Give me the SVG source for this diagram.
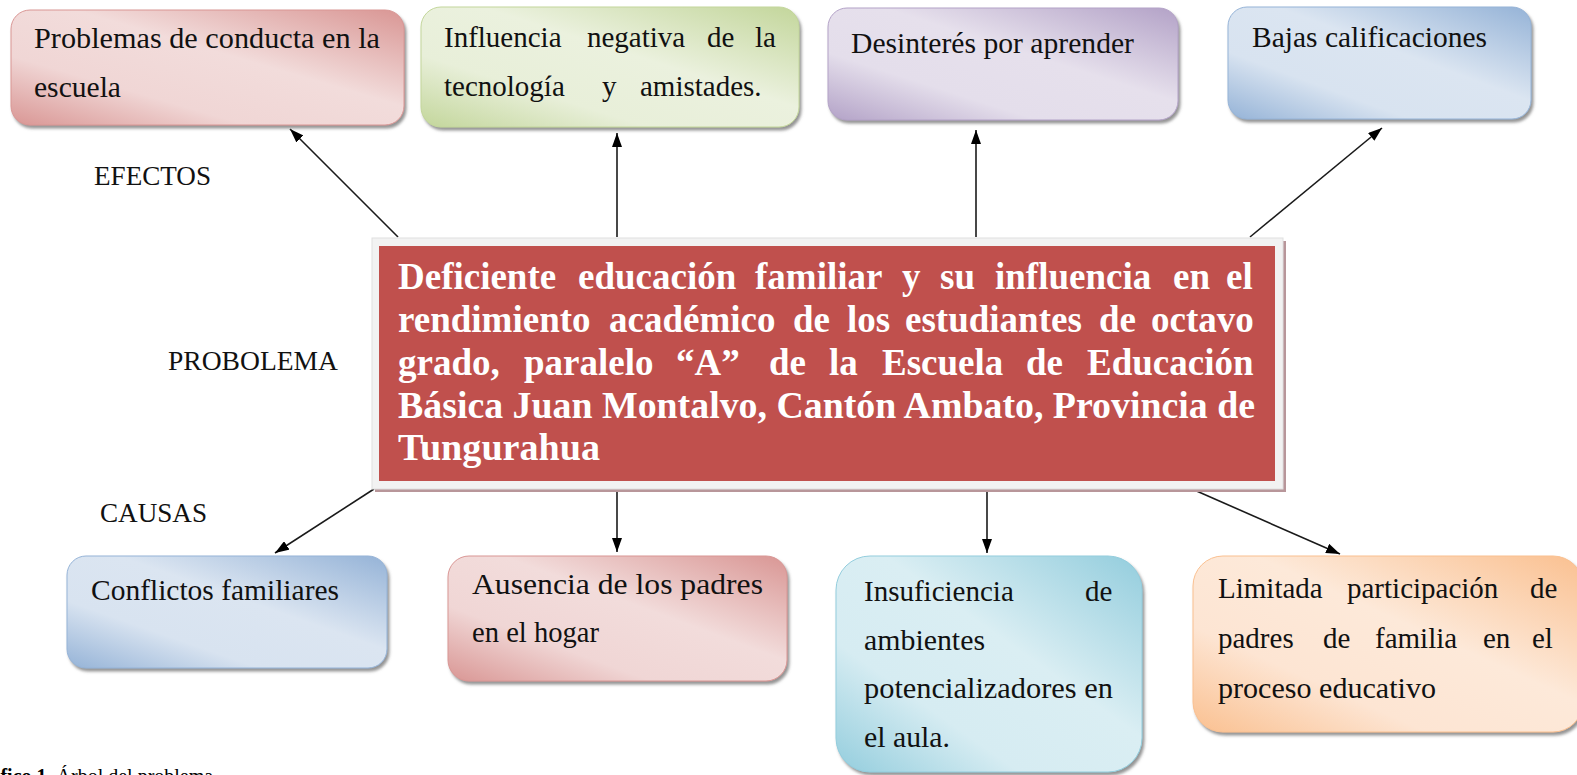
<svg xmlns="http://www.w3.org/2000/svg" width="1577" height="775" viewBox="0 0 1577 775">
<style>
.t{font-family:"Liberation Serif","Times New Roman",serif;font-size:29px;fill:#111}
.lbl{font-family:"Liberation Serif","Times New Roman",serif;font-size:28px;fill:#111}
.main{font-family:"Liberation Serif","Times New Roman",serif;font-size:37px;font-weight:bold;fill:#fff}
.cap{font-family:"Liberation Serif","Times New Roman",serif;font-size:20px;fill:#000}
.conn{stroke:#1a1a1a;stroke-width:1.6;fill:none;marker-end:url(#ah)}
.box{filter:url(#sh);stroke-width:1}
</style>
<defs>
<marker id="ah" viewBox="0 0 14 10" refX="14" refY="5" markerWidth="14" markerHeight="10" markerUnits="userSpaceOnUse" orient="auto">
<path d="M0,0 L14,5 L0,10 z" fill="#000"/>
</marker>
<filter id="sh" x="-5%" y="-5%" width="112%" height="115%">
<feDropShadow dx="2" dy="3" stdDeviation="1.5" flood-color="#6f6f6f" flood-opacity="0.75"/>
</filter>
<linearGradient id="gRed" x1="1" y1="0" x2="0" y2="1">
<stop offset="0" stop-color="#d99694"/><stop offset="0.42" stop-color="#f2dcdb"/><stop offset="0.7" stop-color="#f0d6d5"/><stop offset="1" stop-color="#d99694"/>
</linearGradient>
<linearGradient id="gGreen" x1="1" y1="0" x2="0" y2="1">
<stop offset="0" stop-color="#c3d69b"/><stop offset="0.42" stop-color="#ebf1de"/><stop offset="0.7" stop-color="#e8efd9"/><stop offset="1" stop-color="#c3d69b"/>
</linearGradient>
<linearGradient id="gPurple" x1="1" y1="0" x2="0" y2="1">
<stop offset="0" stop-color="#b3a2c7"/><stop offset="0.42" stop-color="#e6e0ec"/><stop offset="0.7" stop-color="#e4deeb"/><stop offset="1" stop-color="#b3a2c7"/>
</linearGradient>
<linearGradient id="gBlue" x1="1" y1="0" x2="0" y2="1">
<stop offset="0" stop-color="#95b3d7"/><stop offset="0.42" stop-color="#dbe5f1"/><stop offset="0.7" stop-color="#d8e3f0"/><stop offset="1" stop-color="#95b3d7"/>
</linearGradient>
<linearGradient id="gCyan" x1="1" y1="0" x2="0" y2="1">
<stop offset="0" stop-color="#93cddd"/><stop offset="0.42" stop-color="#daeef3"/><stop offset="0.7" stop-color="#d6ecf2"/><stop offset="1" stop-color="#93cddd"/>
</linearGradient>
<linearGradient id="gOrange" x1="1" y1="0" x2="0" y2="1">
<stop offset="0" stop-color="#fac090"/><stop offset="0.42" stop-color="#fde9d9"/><stop offset="0.7" stop-color="#fde5d3"/><stop offset="1" stop-color="#fac090"/>
</linearGradient>
</defs>
<rect width="1577" height="775" fill="#fff"/>

<g id="connectors">
<line class="conn" x1="398" y1="237" x2="290" y2="129"/>
<line class="conn" x1="617" y1="237" x2="617" y2="133"/>
<line class="conn" x1="976" y1="237" x2="976" y2="130"/>
<line class="conn" x1="1250" y1="237" x2="1382" y2="128"/>
<line class="conn" x1="374" y1="489" x2="275" y2="553"/>
<line class="conn" x1="617" y1="489" x2="617" y2="552"/>
<line class="conn" x1="987" y1="489" x2="987" y2="553"/>
<line class="conn" x1="1192" y1="489" x2="1340" y2="554"/>
</g>

<g id="labels">
<text class="lbl" x="94" y="185" textLength="117" lengthAdjust="spacingAndGlyphs">EFECTOS</text>
<text class="lbl" x="168" y="370" textLength="170" lengthAdjust="spacingAndGlyphs">PROBOLEMA</text>
<text class="lbl" x="100" y="522" textLength="107" lengthAdjust="spacingAndGlyphs">CAUSAS</text>
</g>

<g id="problem">
<rect x="375" y="241" width="911" height="251" fill="#b8969a"/>
<rect x="372" y="238" width="911" height="251" fill="#f2f2f2" stroke="#e0e0e0" stroke-width="1"/>
<rect x="379" y="246" width="896" height="235" fill="#c0504d"/>
<text class="main" y="289"><tspan x="398">Deficiente</tspan><tspan x="578">educación</tspan><tspan x="755">familiar</tspan><tspan x="902">y</tspan><tspan x="940">su</tspan><tspan x="995">influencia</tspan><tspan x="1173">en</tspan><tspan x="1226">el</tspan></text>
<text class="main" y="332"><tspan x="398">rendimiento</tspan><tspan x="609">académico</tspan><tspan x="793">de</tspan><tspan x="847">los</tspan><tspan x="905">estudiantes</tspan><tspan x="1099">de</tspan><tspan x="1151">octavo</tspan></text>
<text class="main" y="375"><tspan x="398">grado,</tspan><tspan x="524">paralelo</tspan><tspan x="676">“A”</tspan><tspan x="769">de</tspan><tspan x="829">la</tspan><tspan x="882">Escuela</tspan><tspan x="1026">de</tspan><tspan x="1087">Educación</tspan></text>
<text class="main" x="398" y="418" textLength="857" lengthAdjust="spacingAndGlyphs">Básica Juan Montalvo, Cantón Ambato, Provincia de</text>
<text class="main" x="398" y="460" textLength="202" lengthAdjust="spacingAndGlyphs">Tungurahua</text>
</g>

<g id="efecto1">
<rect class="box" x="11" y="10" width="393" height="115" rx="19" fill="url(#gRed)" stroke="#d99694"/>
<text class="t" x="34" y="48" textLength="346" lengthAdjust="spacingAndGlyphs">Problemas de conducta en la</text>
<text class="t" x="34" y="97" textLength="87" lengthAdjust="spacingAndGlyphs">escuela</text>
</g>

<g id="efecto2">
<rect class="box" x="421" y="7" width="378" height="120" rx="20" fill="url(#gGreen)" stroke="#c3d69b"/>
<text class="t" y="47"><tspan x="444">Influencia</tspan><tspan x="587">negativa</tspan><tspan x="707">de</tspan><tspan x="755">la</tspan></text>
<text class="t" y="96"><tspan x="444">tecnología</tspan><tspan x="602">y</tspan><tspan x="640">amistades.</tspan></text>
</g>

<g id="efecto3">
<rect class="box" x="828" y="8" width="350" height="112" rx="19" fill="url(#gPurple)" stroke="#b3a2c7"/>
<text class="t" x="851" y="53" textLength="283" lengthAdjust="spacingAndGlyphs">Desinterés por aprender</text>
</g>

<g id="efecto4">
<rect class="box" x="1228" y="7" width="303" height="112" rx="19" fill="url(#gBlue)" stroke="#95b3d7"/>
<text class="t" x="1252" y="47" textLength="235" lengthAdjust="spacingAndGlyphs">Bajas calificaciones</text>
</g>

<g id="causa1">
<rect class="box" x="67" y="556" width="320" height="112" rx="19" fill="url(#gBlue)" stroke="#95b3d7"/>
<text class="t" x="91" y="600" textLength="248" lengthAdjust="spacingAndGlyphs">Conflictos familiares</text>
</g>

<g id="causa2">
<rect class="box" x="448" y="556" width="339" height="125" rx="21" fill="url(#gRed)" stroke="#d99694"/>
<text class="t" x="472" y="594" textLength="291" lengthAdjust="spacingAndGlyphs">Ausencia de los padres</text>
<text class="t" x="472" y="642" textLength="127" lengthAdjust="spacingAndGlyphs">en el hogar</text>
</g>

<g id="causa3">
<rect class="box" x="836" y="556" width="306" height="216" rx="34" fill="url(#gCyan)" stroke="#93cddd"/>
<text class="t" y="601"><tspan x="864">Insuficiencia</tspan><tspan x="1085">de</tspan></text>
<text class="t" x="864" y="650" textLength="121" lengthAdjust="spacingAndGlyphs">ambientes</text>
<text class="t" x="864" y="698" textLength="249" lengthAdjust="spacingAndGlyphs">potencializadores en</text>
<text class="t" x="864" y="747" textLength="86" lengthAdjust="spacingAndGlyphs">el aula.</text>
</g>

<g id="causa4">
<rect class="box" x="1193" y="556" width="390" height="176" rx="30" fill="url(#gOrange)" stroke="#fac090"/>
<text class="t" y="598"><tspan x="1218">Limitada</tspan><tspan x="1347">participación</tspan><tspan x="1530">de</tspan></text>
<text class="t" y="648"><tspan x="1218">padres</tspan><tspan x="1323">de</tspan><tspan x="1375">familia</tspan><tspan x="1483">en</tspan><tspan x="1532">el</tspan></text>
<text class="t" x="1218" y="698" textLength="218" lengthAdjust="spacingAndGlyphs">proceso educativo</text>
</g>

<text class="cap" x="-34" y="783"><tspan font-weight="bold">Gráfico 1.</tspan> Árbol del problema</text>
</svg>
